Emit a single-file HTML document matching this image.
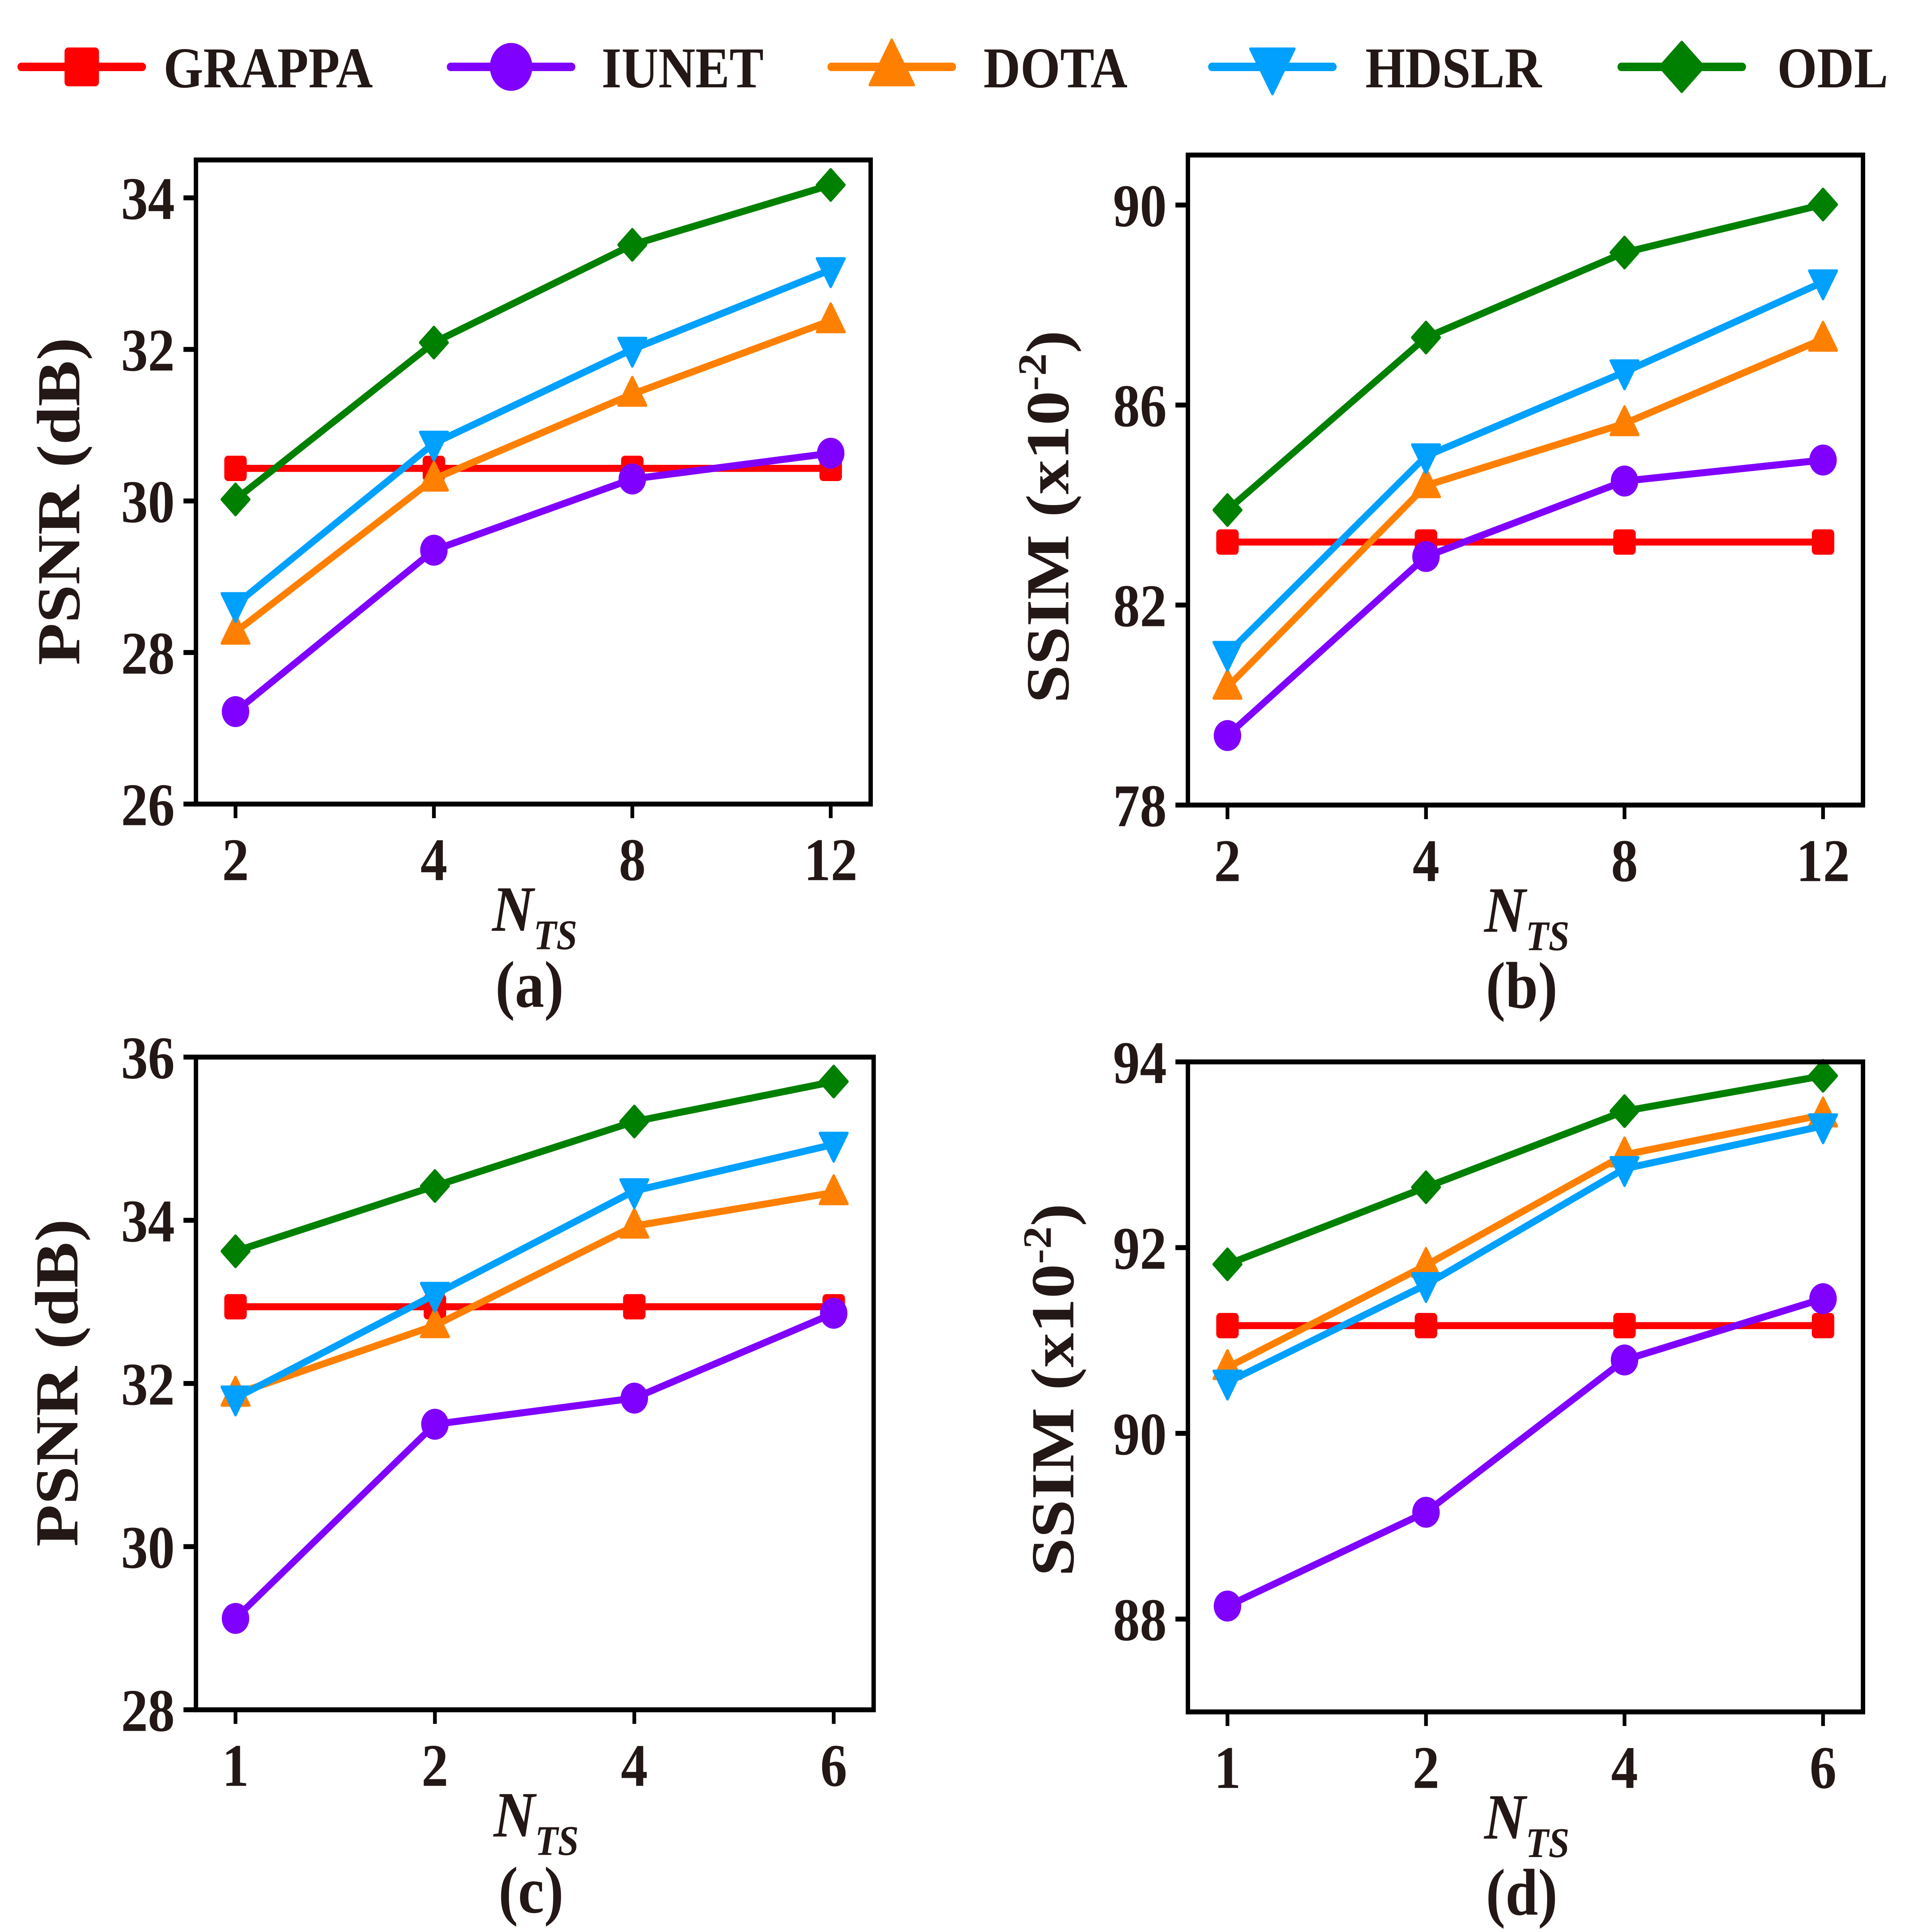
<!DOCTYPE html>
<html><head><meta charset="utf-8"><style>
html,body{margin:0;padding:0;background:#fff;width:100%;height:100%;overflow:hidden;}
svg{display:block;width:100vw;height:100vh;}
text{font-family:"Liberation Serif",serif;font-weight:bold;fill:#231816;}
</style></head><body>
<svg id="fig" xmlns="http://www.w3.org/2000/svg" viewBox="0 0 1548 1372" preserveAspectRatio="none"><g id="root"></g></svg>
<script>
const seriesNames = ["GRAPPA","IUNET","DOTA","HDSLR","ODL"];
const seriesColors = ["#ff0000","#8000ff","#ff8000","#00a0ff","#008000"];
const markers = ["square","circle","tri-up","tri-down","diamond"];

const catsAB = ["2","4","8","12"];
const catsCD = ["1","2","4","6"];

const aGRAPPA=[30.43,30.43,30.43,30.43], aIUNET=[27.22,29.35,30.29,30.63], aDOTA=[28.27,30.29,31.41,32.38], aHDSLR=[28.63,30.76,32.0,33.05], aODL=[30.02,32.09,33.38,34.17];
const bGRAPPA=[83.26,83.26,83.26,83.26], bIUNET=[79.39,82.97,84.48,84.9], bDOTA=[80.36,84.39,85.63,87.32], bHDSLR=[81.03,84.98,86.66,88.46], bODL=[83.9,87.35,89.05,90.01];
const cGRAPPA=[32.94,32.94,32.94,32.94], cIUNET=[29.12,31.5,31.82,32.86], cDOTA=[31.87,32.71,33.93,34.34], cHDSLR=[31.82,33.09,34.36,34.93], cODL=[33.62,34.42,35.21,35.7];
const dGRAPPA=[91.16,91.16,91.16,91.16], dIUNET=[88.14,89.15,90.79,91.45], dDOTA=[90.71,91.81,93.0,93.43], dHDSLR=[90.55,91.6,92.85,93.31], dODL=[91.82,92.65,93.47,93.85];

const aTicks=[26,28,30,32,34], bTicks=[78,82,86,90], cTicks=[28,30,32,34,36], dTicks=[88,90,92,94];

const NS="http://www.w3.org/2000/svg";
const root=document.getElementById('root');
function mk(tag,attrs,parent){const e=document.createElementNS(NS,tag);for(const k in attrs)e.setAttribute(k,attrs[k]);(parent||root).appendChild(e);return e;}

function marker(g,type,x,y,color,s){
  let e;
  const st={fill:color,stroke:color,'stroke-width':2,'stroke-linejoin':'round'};
  if(type==="square") e=mk('rect',Object.assign({x:x-8*s,y:y-8*s,width:16*s,height:16*s,rx:2},st),g);
  else if(type==="circle") e=mk('circle',Object.assign({cx:x,cy:y,r:10*s},st),g);
  else if(type==="tri-up") e=mk('polygon',Object.assign({points:`${x},${y-12*s} ${x+11*s},${y+8*s} ${x-11*s},${y+8*s}`},st),g);
  else if(type==="tri-down") e=mk('polygon',Object.assign({points:`${x},${y+12*s} ${x+11*s},${y-8*s} ${x-11*s},${y-8*s}`},st),g);
  else e=mk('polygon',Object.assign({points:`${x},${y-11*s} ${x+11*s},${y} ${x},${y+11*s} ${x-11*s},${y}`},st),g);
  return e;
}

function panel(id,box,yMin,yMax,ticks,cats,series,ylab,sub,yLabX,yLabY){
  const g=mk('g',{});
  
  
  const [L,T,R,B]=box;
  const ys=v=>B-(v-yMin)/(yMax-yMin)*(B-T);
  const x0=L+31.7, x1=R-32;
  const step=(x1-x0)/(cats.length-1);
  const xs=i=>x0+i*step;
  ticks.forEach(t=>{
    const y=ys(t);
    mk('line',{x1:L-10,y1:y,x2:L,y2:y,stroke:'#000','stroke-width':3.5},g);
    const tx=mk('text',{x:L-17,y:y+15,'font-size':43,'text-anchor':'end'},g);tx.textContent=t;
    
    
  });
  cats.forEach((c,i)=>{
    const x=xs(i);
    mk('line',{x1:x,y1:B,x2:x,y2:B+10,stroke:'#000','stroke-width':3},g);
    const tx=mk('text',{x:x,y:B+54,'font-size':43,'text-anchor':'middle'},g);tx.textContent=c;
    
    
  });
  series.forEach((vals,si)=>{
    const sg=mk('g',{},g);
    
    
    const pts=vals.map((v,i)=>xs(i)+','+ys(v)).join(' ');
    mk('polyline',{points:pts,fill:'none',stroke:seriesColors[si],'stroke-width':5,'stroke-linejoin':'round'},sg);
    vals.forEach((v,i)=>{
      const m=marker(sg,markers[si],xs(i),ys(v),seriesColors[si],1);
      
      
    });
  });
  const frame=mk('rect',{x:L,y:T,width:R-L,height:B-T,fill:'none',stroke:'#000','stroke-width':3.5},g);
  
  
  const cx=(L+R)/2;
  const yl=mk('text',{transform:`translate(${yLabX+17},${yLabY}) rotate(-90)`,'font-size':49,'text-anchor':'middle'},g);
  
  
  if(ylab==="SSIM"){yl.innerHTML='SSIM (x10<tspan font-size="32" dy="-18">-2</tspan><tspan dy="18">)</tspan>';}
  else yl.textContent='PSNR (dB)';
  const xl=mk('text',{x:cx-33,y:B+90,'font-size':46,'font-style':'italic'},g);
  xl.innerHTML='N<tspan font-size="30" dy="13">TS</tspan>';
  
  
  const st=mk('text',{x:cx-3,y:B+144,'font-size':47,'text-anchor':'middle'},g);
  st.textContent=sub;
  
  
}

panel('a',[157,113.6,697.6,571],26,34.5,aTicks,catsAB,[aGRAPPA,aIUNET,aDOTA,aHDSLR,aODL],'PSNR','(a)',46.5,356);
panel('b',[951.8,110.1,1492.7,571.7],78,91,bTicks,catsAB,[bGRAPPA,bIUNET,bDOTA,bHDSLR,bODL],'SSIM','(b)',839,367);
panel('c',[157,750.7,700,1214.2],28,36,cTicks,catsCD,[cGRAPPA,cIUNET,cDOTA,cHDSLR,cODL],'PSNR','(c)',45,982);
panel('d',[951.8,754.1,1492.7,1215.7],87,94,dTicks,catsCD,[dGRAPPA,dIUNET,dDOTA,dHDSLR,dODL],'SSIM','(d)',843,987);

// legend
const legX=[17,361,666,971,1299];
const legText=[131,482,788,1094,1424];
const lg=mk('g',{});


seriesNames.forEach((n,i)=>{
  const eg=mk('g',{},lg);
  
  
  const x=legX[i];
  mk('line',{x1:x,y1:47.5,x2:x+97,y2:47.5,stroke:seriesColors[i],'stroke-width':6,'stroke-linecap':'round'},eg);
  marker(eg,markers[i],x+48.5,47.5,seriesColors[i],1.6);
  const t=mk('text',{x:legText[i],y:62,'font-size':41},eg);t.textContent=n;
});
</script>
</body></html>
